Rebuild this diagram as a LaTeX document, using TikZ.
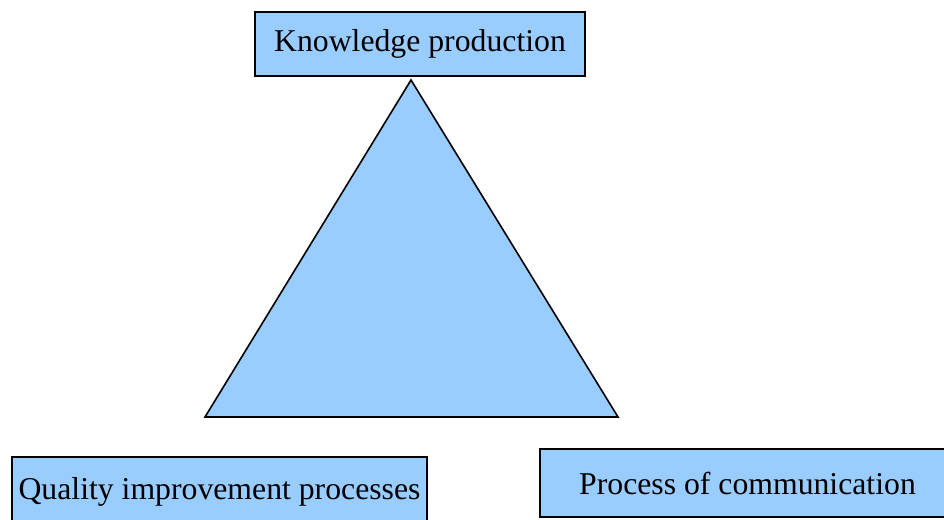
\documentclass[tikz,border=0pt]{standalone}
\usepackage{fontspec}
\setmainfont{Liberation Serif}
\usepackage{tikz}
\definecolor{lightsky}{HTML}{99CCFF}
\tikzstyle{every node}+=[inner sep=0pt]
\tikzstyle{block} = [rectangle, draw, fill=lightsky, line width=1.2pt, font=\fontsize{23.8}{28}\selectfont, text centered, minimum height=48pt]
\tikzstyle{face} = [draw, fill=lightsky, line width=1.2pt, line join=miter]

\begin{document}
\begin{tikzpicture}[x=0.75pt, y=0.75pt]
            \useasboundingbox (0,0) rectangle (944,520);
            % Place nodes
            \node [block, minimum width=247.5pt, minimum height=48pt] (know) at (420,476) {Knowledge production};
            \node [block, minimum width=311.25pt, minimum height=52.5pt] (quality) at (219.5,28) {Quality improvement processes};
            \node [block, minimum width=311.25pt, minimum height=51pt] (comm) at (747.5,37) {Process of communication};
            % Triangle corners
            \coordinate (apex) at (411,440);
            \coordinate (baseL) at (205,103);
            \coordinate (baseR) at (618,103);
            % Draw triangle
            \path [face] (apex) -- (baseR) -- (baseL) -- cycle;
          \end{tikzpicture}
\end{document}
